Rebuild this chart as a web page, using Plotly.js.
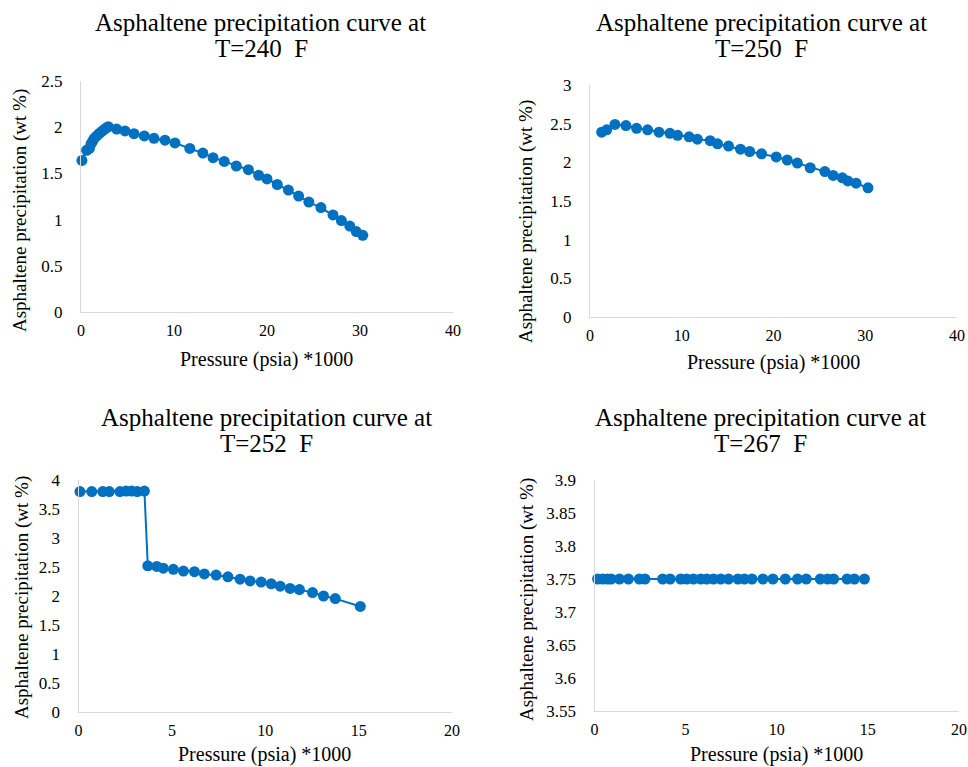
<!DOCTYPE html>
<html>
<head>
<meta charset="utf-8">
<script src="https://cdn.plot.ly/plotly-3.0.1.min.js"></script>
<style>
  html, body { margin: 0; padding: 0; background: #ffffff; }
  #chart { width: 968px; height: 767px; }
</style>
</head>
<body>
<div id="chart"></div>
<script>
// Asphaltene precipitation (wt %) versus pressure (psia / 1000) at four temperatures.

const pressure240 = [0.1, 0.6, 0.9, 1.08, 1.26, 1.43, 1.69, 1.94, 2.18, 2.44, 2.69, 2.94,
  3.83, 4.73, 5.70, 6.81, 7.85, 9.03, 10.1, 11.7, 13.1, 14.2, 15.4, 16.7, 18.0, 19.1,
  20.0, 21.1, 22.3, 23.4, 24.5, 25.8, 27.1, 28.0, 28.9, 29.6, 30.3];
const precip240 = [1.64, 1.75, 1.77, 1.82, 1.85, 1.88, 1.905, 1.93, 1.95, 1.97, 1.99, 2.005,
  1.98, 1.96, 1.93, 1.905, 1.88, 1.86, 1.83, 1.77, 1.72, 1.67, 1.63, 1.58, 1.54, 1.48,
  1.44, 1.38, 1.32, 1.255, 1.19, 1.13, 1.05, 0.99, 0.93, 0.87, 0.83];

const pressure250 = [1.27, 1.82, 2.72, 3.92, 5.08, 6.28, 7.52, 8.71, 9.55, 10.8, 11.7, 13.1,
  13.9, 15.1, 16.4, 17.4, 18.7, 20.3, 21.5, 22.6, 24.0, 25.6, 26.5, 27.5, 28.1, 29.0, 30.3];
const precip250 = [2.39, 2.42, 2.49, 2.475, 2.44, 2.42, 2.39, 2.375, 2.35, 2.33, 2.30, 2.28,
  2.24, 2.21, 2.17, 2.14, 2.11, 2.07, 2.03, 1.99, 1.93, 1.88, 1.83, 1.80, 1.76, 1.73, 1.67];

const pressure252 = [0.08, 0.71, 1.30, 1.65, 2.22, 2.55, 2.85, 3.15, 3.53,
  3.71, 4.19, 4.54, 5.08, 5.62, 6.21, 6.74, 7.37, 8.0, 8.65, 9.19, 9.78, 10.32, 10.8,
  11.33, 11.83, 12.53, 13.12, 13.75, 15.09];
const precip252 = [3.8, 3.8, 3.8, 3.8, 3.8, 3.81, 3.81, 3.8, 3.81,
  2.52, 2.51, 2.48, 2.46, 2.43, 2.42, 2.38, 2.36, 2.33, 2.29, 2.26, 2.24, 2.21, 2.17,
  2.13, 2.11, 2.06, 2.00, 1.955, 1.82];

const pressure267 = [0.17, 0.45, 0.71, 0.91, 1.37, 1.86, 2.46, 2.77, 3.74, 4.15, 4.73, 5.06,
  5.43, 5.83, 6.16, 6.53, 6.93, 7.35, 7.87, 8.23, 8.64, 9.24, 9.79, 10.47, 11.14, 11.62,
  12.39, 12.79, 13.12, 13.86, 14.26, 14.81];
const precip267 = [3.75, 3.75, 3.75, 3.75, 3.75, 3.75, 3.75, 3.75, 3.75, 3.75, 3.75, 3.75,
  3.75, 3.75, 3.75, 3.75, 3.75, 3.75, 3.75, 3.75, 3.75, 3.75, 3.75, 3.75, 3.75, 3.75,
  3.75, 3.75, 3.75, 3.75, 3.75, 3.75];

const temperatures = ['240', '250', '252', '267'];
const titleLine1 = 'Asphaltene precipitation curve at';
const xTitle = 'Pressure (psia) *1000';
const yTitle = 'Asphaltene precipitation (wt %)';

const W = 968, H = 767;
const SERIF = 'Liberation Serif, serif';
const BLUE = '#0070C0';
const AXIS_GREY = '#d9d9d9';

// pixel helpers for the page layout
const fx = p => p / W;
const fy = p => 1 - p / H;

function series(x, y, xa, ya) {
  return {
    type: 'scatter', mode: 'lines+markers', x: x, y: y,
    xaxis: xa, yaxis: ya, cliponaxis: false,
    line: { color: BLUE, width: 2 },
    marker: { color: BLUE, size: 11 },
    showlegend: false, hoverinfo: 'x+y'
  };
}

const data = [
  series(pressure240, precip240, 'x', 'y'),
  series(pressure250, precip250, 'x2', 'y2'),
  series(pressure252, precip252, 'x3', 'y3'),
  series(pressure267, precip267, 'x4', 'y4')
];

function xAxis(domain, range, dtick, anchor) {
  return {
    domain: domain, range: range, dtick: dtick, tick0: 0, anchor: anchor,
    showgrid: false, zeroline: false, showline: true, linecolor: AXIS_GREY, linewidth: 1,
    ticks: '', ticklabelstandoff: 4,
    tickfont: { family: SERIF, size: 16, color: '#000' }, fixedrange: true
  };
}
function yAxis(domain, range, dtick, tick0, anchor) {
  return {
    domain: domain, range: range, dtick: dtick, tick0: tick0, anchor: anchor,
    showgrid: false, zeroline: false, showline: true, linecolor: AXIS_GREY, linewidth: 1,
    ticks: '', ticklabelstandoff: 14,
    tickfont: { family: SERIF, size: 17, color: '#000' }, fixedrange: true
  };
}

// panel plot areas, in page pixels: [left, right, top, bottom]
const boxes = [
  [81, 453, 81, 312],
  [590, 957, 85, 317],
  [78.5, 452, 480, 712],
  [594.5, 959, 480, 711]
];
const dx = b => [fx(b[0]), fx(b[1])];
const dy = b => [fy(b[3]), fy(b[2])];

const layout = {
  width: W, height: H,
  margin: { l: 0, r: 0, t: 0, b: 0 },
  paper_bgcolor: '#ffffff', plot_bgcolor: '#ffffff',
  font: { family: SERIF, color: '#000' },
  xaxis: xAxis(dx(boxes[0]), [0, 40], 10, 'y'),
  yaxis: yAxis(dy(boxes[0]), [0, 2.5], 0.5, 0, 'x'),
  xaxis2: xAxis(dx(boxes[1]), [0, 40], 10, 'y2'),
  yaxis2: yAxis(dy(boxes[1]), [0, 3], 0.5, 0, 'x2'),
  xaxis3: xAxis(dx(boxes[2]), [0, 20], 5, 'y3'),
  yaxis3: yAxis(dy(boxes[2]), [0, 4], 0.5, 0, 'x3'),
  xaxis4: xAxis(dx(boxes[3]), [0, 20], 5, 'y4'),
  yaxis4: yAxis(dy(boxes[3]), [3.55, 3.9], 0.05, 3.55, 'x4'),
  annotations: []
};

// titles and axis titles, positioned in page pixels
const titlePos = [[260, 22, 261, 48], [761, 22, 761, 48], [266, 417, 266, 443], [760, 417, 760, 443]];
const xTitlePos = [[266, 359], [773, 362], [264, 754], [776, 754]];
const yTitlePos = [[20, 211], [526, 222], [22, 598], [527, 600]];

function note(text, x, y, size, angle) {
  return {
    text: text, xref: 'paper', yref: 'paper', x: fx(x), y: fy(y),
    xanchor: 'center', yanchor: 'middle', showarrow: false, textangle: angle || 0,
    font: { family: SERIF, size: size, color: '#000' }
  };
}

temperatures.forEach((t, i) => {
  const tp = titlePos[i];
  layout.annotations.push(note(titleLine1, tp[0], tp[1], 25));
  layout.annotations.push(note('T=' + t + '&nbsp; F', tp[2], tp[3], 25));
  layout.annotations.push(note(xTitle, xTitlePos[i][0], xTitlePos[i][1], 20));
  layout.annotations.push(note(yTitle, yTitlePos[i][0], yTitlePos[i][1], 19, -90));
});

Plotly.newPlot('chart', data, layout, { displayModeBar: false, staticPlot: true });
</script>
</body>
</html>
